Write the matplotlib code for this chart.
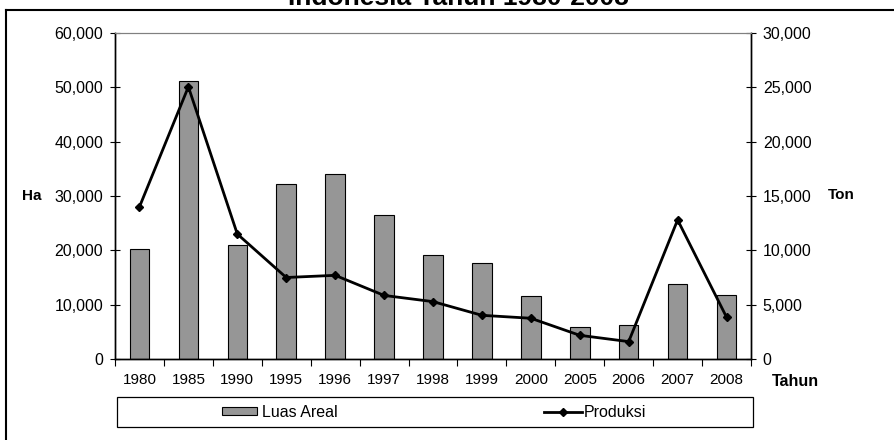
import numpy as np
import matplotlib.pyplot as plt
from matplotlib.lines import Line2D
from matplotlib.patches import Rectangle
from matplotlib.ticker import FuncFormatter

plt.rcParams['font.family'] = ['Liberation Sans', 'DejaVu Sans']

# data
tahun = ['1980', '1985', '1990', '1995', '1996', '1997', '1998',
         '1999', '2000', '2005', '2006', '2007', '2008']
luas_areal = [20200, 51200, 20900, 32300, 34050, 26500, 19150,
              17600, 11550, 5950, 6200, 13750, 11700]
produksi = [14000, 25050, 11500, 7500, 7700, 5850, 5280,
            4020, 3750, 2180, 1600, 12800, 3850]

fig = plt.figure(figsize=(8.94, 4.4), dpi=100)
ax = fig.add_axes([115/894, 1 - 359/440, 636/894, 326/440])
ax2 = ax.twinx()

x = np.arange(len(tahun))
bars = ax.bar(x, luas_areal, width=0.4, color='#969696', edgecolor='black', linewidth=0.8,
              label='Luas Areal', zorder=2)
line, = ax2.plot(x, produksi, color='black', linewidth=2, marker='D', markersize=4.5,
                 label='Produksi', zorder=3)

ax.set_xlim(-0.5, len(tahun) - 0.5)
ax.set_ylim(0, 60000)
ax2.set_ylim(0, 30000)
ax.set_yticks(np.arange(0, 60001, 10000))
ax2.set_yticks(np.arange(0, 30001, 5000))
fmt = FuncFormatter(lambda v, p: '{:,.0f}'.format(v))
ax.yaxis.set_major_formatter(fmt)
ax2.yaxis.set_major_formatter(fmt)

# category ticks at boundaries, labels at centres
ax.set_xticks(np.arange(-0.5, len(tahun)), minor=False)
ax.set_xticklabels([])
ax.set_xticks(x, minor=True)
ax.set_xticklabels(tahun, minor=True, fontsize=11)
ax.tick_params(axis='x', which='major', direction='out', length=5, color='black')
ax.tick_params(axis='x', which='minor', length=0, pad=10)
ax.tick_params(axis='y', direction='inout', length=7, labelsize=11.5, pad=5)
ax2.tick_params(axis='y', direction='inout', length=7, labelsize=11.5, pad=5)

for a in (ax, ax2):
    a.spines['top'].set_color('#808080')
    a.spines['top'].set_linewidth(0.8)
    a.spines['left'].set_linewidth(1.0)
    a.spines['right'].set_linewidth(1.0)
    a.spines['bottom'].set_linewidth(1.0)

fig.text(32/894, 1 - 196/440, 'Ha', fontsize=11, fontweight='bold', ha='center', va='center')
fig.text(841/894, 1 - 195/440, 'Ton', fontsize=11, fontweight='bold', ha='center', va='center')
fig.text(795/894, 1 - 381/440, 'Tahun', fontsize=11.5, fontweight='bold', ha='center', va='center')

# partially visible title at the very top
fig.text(458/894, 1 - 5/440, 'Indonesia Tahun 1980-2008', fontsize=19, fontweight='bold',
         ha='center', va='baseline')

# outer chart frame (top and left edges visible)
fig.add_artist(Line2D([5.5/894, 1], [1 - 10.5/440, 1 - 10.5/440], color='black', linewidth=1.5))
fig.add_artist(Line2D([5.5/894, 5.5/894], [0, 1 - 10.5/440], color='black', linewidth=1.5))

# legend box
fig.add_artist(Rectangle((117/894, 1 - 427/440), 636/894, 30/440, transform=fig.transFigure,
                         facecolor='white', edgecolor='black', linewidth=0.9))
leg_kw = dict(loc='center left', frameon=False, fontsize=11.5, handlelength=2.2,
              handleheight=0.45, handletextpad=0.3, borderpad=0, borderaxespad=0)
fig.legend([bars], ['Luas Areal'], bbox_to_anchor=(222/894, 1 - 412/440), **leg_kw)
leg_kw['handlelength'] = 2.4
leg_kw['handletextpad'] = 0.1
fig.legend([line], ['Produksi'], bbox_to_anchor=(544/894, 1 - 412/440), **leg_kw)

fig.savefig('out.png', dpi=100)
